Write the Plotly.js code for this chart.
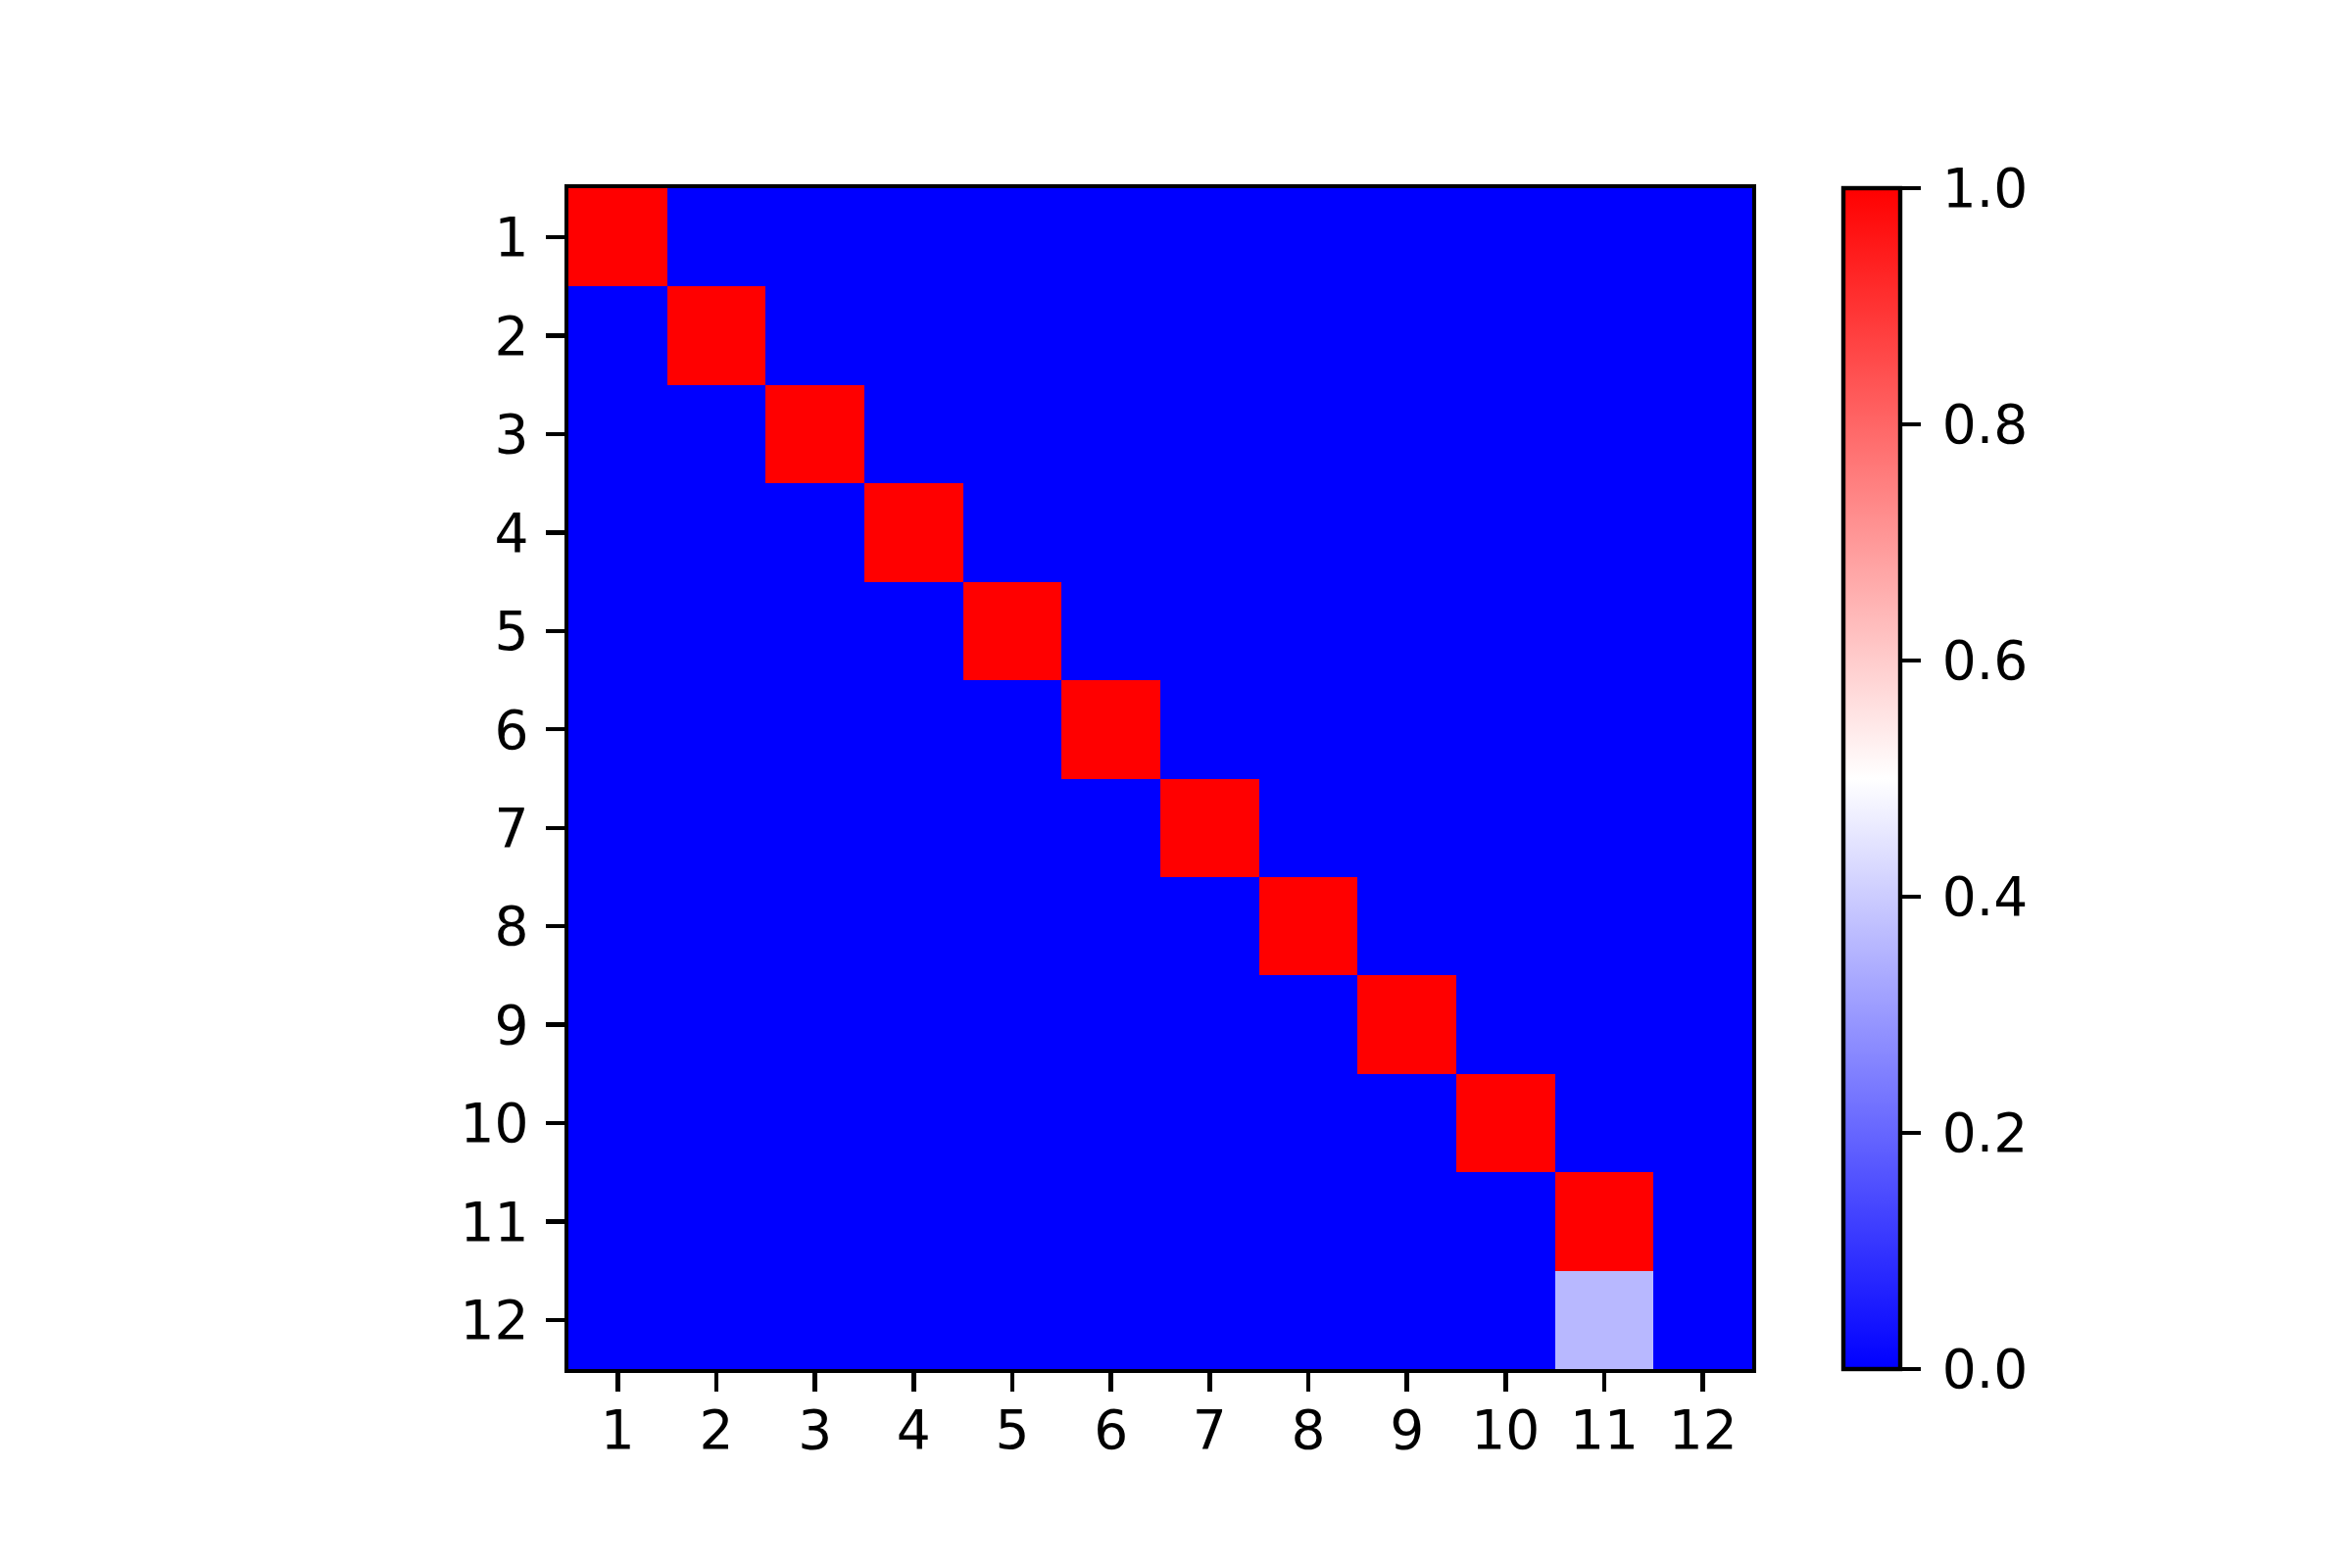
<!DOCTYPE html>
<html>
<head>
<meta charset="utf-8">
<script src="https://cdn.plot.ly/plotly-3.0.1.min.js"></script>
<style>html,body{margin:0;padding:0;background:#fff;}#chart{width:2400px;height:1600px;}</style>
</head>
<body>
<div id="chart"></div>
<script>
const xLabels = [1,2,3,4,5,6,7,8,9,10,11,12];
const yLabels = [1,2,3,4,5,6,7,8,9,10,11,12];
const row1  = [1,0,0,0,0,0,0,0,0,0,0,0];
const row2  = [0,1,0,0,0,0,0,0,0,0,0,0];
const row3  = [0,0,1,0,0,0,0,0,0,0,0,0];
const row4  = [0,0,0,1,0,0,0,0,0,0,0,0];
const row5  = [0,0,0,0,1,0,0,0,0,0,0,0];
const row6  = [0,0,0,0,0,1,0,0,0,0,0,0];
const row7  = [0,0,0,0,0,0,1,0,0,0,0,0];
const row8  = [0,0,0,0,0,0,0,1,0,0,0,0];
const row9  = [0,0,0,0,0,0,0,0,1,0,0,0];
const row10 = [0,0,0,0,0,0,0,0,0,1,0,0];
const row11 = [0,0,0,0,0,0,0,0,0,0,1,0];
const row12 = [0,0,0,0,0,0,0,0,0,0,0.36,0];
const z = [row1,row2,row3,row4,row5,row6,row7,row8,row9,row10,row11,row12];

const W = 2400, H = 1600;
const L = 580, R = 1788, T = 192, B = 1397;
const fontSpec = {family: 'DejaVu Sans, sans-serif', size: 55, color: '#000'};

const trace = {
  type: 'heatmap',
  x: xLabels, y: yLabels, z: z,
  zmin: 0, zmax: 1,
  colorscale: [[0,'rgb(0,0,255)'],[0.5,'rgb(255,255,255)'],[1,'rgb(255,0,0)']],
  showscale: true,
  colorbar: {
    thickness: 58, thicknessmode: 'pixels',
    len: 1, lenmode: 'fraction',
    x: (1881 - L) / (R - L), xanchor: 'left', xref: 'paper',
    y: 0.5, yanchor: 'middle', yref: 'paper',
    xpad: 0, ypad: 0,
    outlinewidth: 4.4, outlinecolor: '#000',
    ticks: 'outside', ticklen: 19, tickwidth: 4.4, tickcolor: '#000',
    tick0: 0, dtick: 0.2, tickformat: '.1f', tickprefix: '\u2009',
    tickfont: fontSpec
  }
};

const axisCommon = {
  showline: true, mirror: true, linewidth: 4.4, linecolor: '#000',
  ticks: 'outside', ticklen: 19, tickwidth: 4.4, tickcolor: '#000',
  tickfont: fontSpec, showgrid: false, zeroline: false,
  tickmode: 'array'
};

const layout = {
  width: W, height: H,
  margin: {l: L, r: W - R, t: T, b: H - B, pad: 0},
  paper_bgcolor: '#fff', plot_bgcolor: '#fff',
  font: fontSpec,
  xaxis: Object.assign({}, axisCommon, {
    tickvals: xLabels, ticktext: xLabels.map(String),
    range: [0.5, 12.5], ticklabelstandoff: -8
  }),
  yaxis: Object.assign({}, axisCommon, {
    tickvals: yLabels, ticktext: yLabels.map(String),
    range: [12.5, 0.5], ticklabelstandoff: 6
  })
};

Plotly.newPlot('chart', [trace], layout, {staticPlot: true, displayModeBar: false});
</script>
</body>
</html>
